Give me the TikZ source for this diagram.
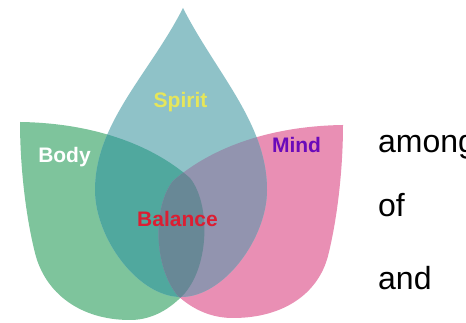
\documentclass[tikz,border=0pt]{standalone}
\usepackage{fontspec}
\setmainfont{Liberation Sans}
\definecolor{cbody}{HTML}{7EC49C}
\definecolor{cspirit}{HTML}{8FC2C8}
\definecolor{cmind}{HTML}{E98FB4}
\definecolor{cbs}{HTML}{50A89E}
\definecolor{csm}{HTML}{9294AF}
\definecolor{cbm}{HTML}{6F8AA0}
\definecolor{call}{HTML}{688896}
\definecolor{tspirit}{HTML}{E6E65A}
\definecolor{tmind}{HTML}{6A0ABA}
\definecolor{tbal}{HTML}{DC1E32}
\def\bodypath{(20,201) .. controls (90,200) and (150,180) .. (190,145) .. controls (210,120) and (210,60) .. (185,30) .. controls (165,8) and (145,3) .. (130,3) .. controls (80,3) and (45,30) .. (35,70) .. controls (25,110) and (20,160) .. (20,201) -- cycle}
\def\mindpath{(343,198) .. controls (273,197) and (213,177) .. (173,142) .. controls (153,117) and (153,57) .. (178,27) .. controls (198,9) and (218,5) .. (233,5) .. controls (283,5) and (318,29) .. (328,67) .. controls (338,107) and (343,157) .. (343,198) -- cycle}
\def\spiritpath{(183,315) .. controls (150,250) and (95,200) .. (95,133) .. controls (95,85) and (138,26) .. (181,26) .. controls (224,26) and (267,85) .. (267,133) .. controls (267,200) and (216,250) .. (183,315) -- cycle}
\tikzset{
  lab/.style={font=\fontsize{21}{25}\selectfont\bfseries, anchor=base, inner sep=0pt},
  word/.style={font=\fontsize{32}{38}\selectfont, anchor=base west, text=black, inner sep=0pt}
}
\begin{document}
\begin{tikzpicture}[x=1pt,y=1pt]
\clip (0,0) rectangle (466,323);
\fill[white] (0,0) rectangle (466,323);
\fill[cbody] \bodypath;
\fill[cmind] \mindpath;
\fill[cspirit] \spiritpath;
\begin{scope}
  \clip \bodypath;
  \fill[cbs] \spiritpath;
  \fill[cbm] \mindpath;
\end{scope}
\begin{scope}
  \clip \spiritpath;
  \fill[csm] \mindpath;
\end{scope}
\begin{scope}
  \clip \bodypath;
  \clip \spiritpath;
  \fill[call] \mindpath;
\end{scope}
\node[lab, text=tspirit] (spirit) at (180.5,215) {Spirit};
\node[lab, text=white] (body) at (64.5,160) {Body};
\node[lab, text=tmind] (mind) at (296.5,170) {Mind};
\node[lab, text=tbal] (balance) at (177.5,96) {Balance};
\node[word] (among) at (378,170) {among};
\node[word] (of) at (378,106) {of};
\node[word] (and) at (378,33) {and};
\end{tikzpicture}
\end{document}
